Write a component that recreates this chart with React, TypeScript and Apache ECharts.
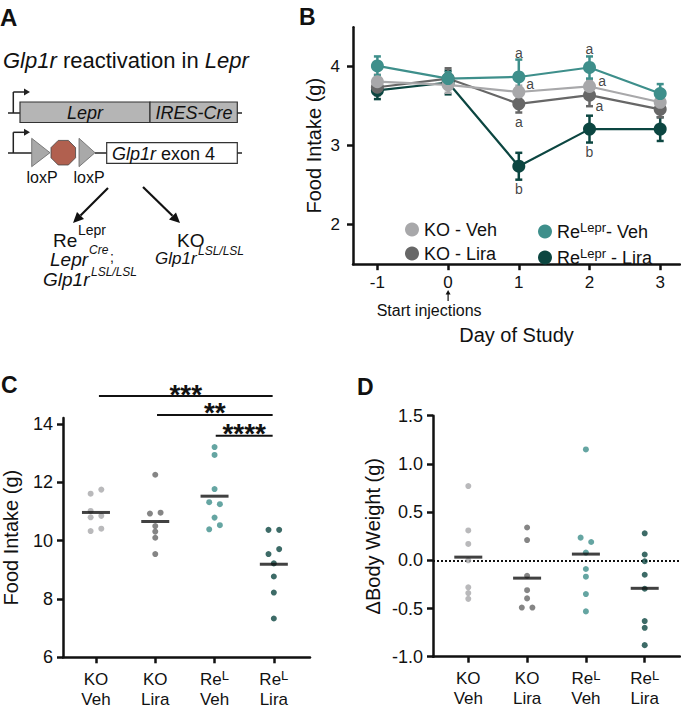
import React, { useEffect, useRef } from 'react';
import * as echarts from 'echarts';

const FONT = '"Liberation Sans", Arial, Helvetica, sans-serif';
const INK = '#111111';

// ---------- Panel B: daily food intake (mean ± SEM) ----------
const bDays = [-1, 0, 1, 2, 3];
const bYTicks = [2, 3, 4];
const bKOVeh = [3.81, 3.77, 3.68, 3.75, 3.55];
const bKOVehErr = [0.09, 0.1, 0.08, 0.08, 0.07];
const bKOLira = [3.74, 3.85, 3.53, 3.64, 3.46];
const bKOLiraErr = [0.1, 0.13, 0.11, 0.14, 0.1];
const bReVeh = [4.01, 3.85, 3.87, 3.99, 3.66];
const bReVehErr = [0.12, 0.08, 0.22, 0.14, 0.12];
const bReLira = [3.7, 3.8, 2.74, 3.21, 3.21];
const bReLiraErr = [0.11, 0.15, 0.17, 0.17, 0.15];
const bLetters: [number, number, string][] = [
  [1, 4.17, 'a'], [1.16, 3.78, 'a'], [1, 3.3, 'a'], [1, 2.45, 'b'],
  [2, 4.22, 'a'], [2.18, 3.82, 'a'], [2.14, 3.5, 'a'], [2, 2.92, 'b'],
];

// ---------- Panels C & D: groups ----------
const groupTop = ['KO', 'KO', 'Re', 'Re'];
const groupSup = ['', '', 'L', 'L'];
const groupBottom = ['Veh', 'Lira', 'Veh', 'Lira'];
const groupColors = ['#a8a8aa', '#676767', '#3e8f8b', '#0c4641'];

// Panel C: cumulative food intake (g)
const cKOVeh = [11.61, 11.75, 11.02, 10.8, 10.85, 10.33, 10.41];
const cKOVehJit = [-0.09, 0.09, -0.09, -0.09, 0.09, -0.09, 0.09];
const cKOLira = [12.26, 10.93, 10.96, 10.5, 10.31, 10.1, 9.54];
const cKOLiraJit = [0, -0.09, 0.09, 0, 0, 0, 0];
const cReVeh = [13.21, 12.94, 11.77, 11.32, 11.25, 10.79, 10.39, 10.53];
const cReVehJit = [0, 0, 0, -0.09, 0.09, 0, -0.09, 0.09];
const cReLira = [10.37, 10.37, 9.54, 9.71, 9.22, 8.77, 8.22, 7.33];
const cReLiraJit = [-0.09, 0.09, -0.09, 0.09, 0, 0, 0, 0];
const cYTicks = [6, 8, 10, 12, 14];
const cSig: [number, number, string, number][] = [
  [0.05, 2.98, '***', 14.96],
  [1.03, 2.98, '**', 14.31],
  [2.02, 2.98, '****', 13.6],
];

// Panel D: change in body weight (g)
const dKOVeh = [0.77, 0.31, 0.17, 0.0, -0.28, -0.34, -0.4];
const dKOVehJit = [0, 0, 0, 0, 0, 0, 0];
const dKOLira = [0.34, 0.21, -0.16, -0.31, -0.395, -0.49, -0.49];
const dKOLiraJit = [0, 0, 0, 0, 0, -0.09, 0.09];
const dReVeh = [1.15, 0.235, 0.19, 0.08, -0.09, -0.17, -0.35, -0.53];
const dReVehJit = [0, -0.09, 0.09, 0, 0, 0, 0, 0];
const dReLira = [0.28, 0.06, -0.01, -0.15, -0.295, -0.63, -0.7, -0.88];
const dReLiraJit = [0, 0, 0, 0, 0, 0, 0, 0];
const dYTicks = [-1, -0.5, 0, 0.5, 1, 1.5];
const catTicks = [0, 1, 2, 3];

const mean = (a: number[]) => a.reduce((s, v) => s + v, 0) / a.length;

const axisLineStyle = { color: INK, width: 2.5 };
const tickStyle = { show: true, length: 6, lineStyle: { color: INK, width: 2.5 } };

const catLabel = {
  customValues: catTicks,
  margin: 12,
  color: INK,
  fontFamily: FONT,
  formatter: (v: number) => {
    const i = Math.round(v);
    return `{t|${groupTop[i]}}` + (groupSup[i] ? `{s|${groupSup[i]}}` : '') + `\n{t|${groupBottom[i]}}`;
  },
  rich: {
    t: { fontSize: 17, lineHeight: 20, color: INK, fontFamily: FONT },
    s: { fontSize: 13, lineHeight: 13, verticalAlign: 'top', color: INK, fontFamily: FONT },
  },
};

function buildOption(): any {
  const series: any[] = [];
  const bGroups = [
    { name: 'Re-Lira', vals: bReLira, err: bReLiraErr, color: groupColors[3] },
    { name: 'KO - Lira', vals: bKOLira, err: bKOLiraErr, color: groupColors[1] },
    { name: 'KO - Veh', vals: bKOVeh, err: bKOVehErr, color: groupColors[0] },
    { name: 'Re-Veh', vals: bReVeh, err: bReVehErr, color: groupColors[2] },
  ];
  bGroups.forEach((g) => {
    series.push({
      type: 'custom',
      name: 'err ' + g.name,
      xAxisIndex: 0,
      yAxisIndex: 0,
      silent: true,
      data: bDays.map((d, i) => [d, g.vals[i] - g.err[i], g.vals[i] + g.err[i]]),
      renderItem: (params: any, api: any) => {
        const x = api.value(0);
        const p1 = api.coord([x, api.value(2)]);
        const p2 = api.coord([x, api.value(1)]);
        const w = 3.5;
        const st = { stroke: g.color, lineWidth: 2.5 };
        return {
          type: 'group',
          children: [
            { type: 'line', shape: { x1: p1[0], y1: p1[1], x2: p2[0], y2: p2[1] }, style: st },
            { type: 'line', shape: { x1: p1[0] - w, y1: p1[1], x2: p1[0] + w, y2: p1[1] }, style: st },
            { type: 'line', shape: { x1: p2[0] - w, y1: p2[1], x2: p2[0] + w, y2: p2[1] }, style: st },
          ],
        };
      },
    });
    series.push({
      type: 'line',
      name: g.name,
      xAxisIndex: 0,
      yAxisIndex: 0,
      data: bDays.map((d, i) => [d, g.vals[i]]),
      symbol: 'circle',
      symbolSize: 13,
      showSymbol: true,
      lineStyle: { color: g.color, width: 2.2 },
      itemStyle: { color: g.color },
      emphasis: { disabled: true },
    });
  });
  series.push({
    type: 'scatter',
    xAxisIndex: 0,
    yAxisIndex: 0,
    silent: true,
    data: bLetters,
    symbolSize: 1,
    itemStyle: { color: 'transparent' },
    label: {
      show: true,
      position: 'inside',
      formatter: (p: any) => p.value[2],
      fontSize: 14,
      color: '#111',
      fontFamily: FONT,
    },
    z: 10,
  });

  const addDots = (groups: number[][], jit: number[][], axis: number) => {
    groups.forEach((vals, g) => {
      series.push({
        type: 'scatter',
        xAxisIndex: axis,
        yAxisIndex: axis,
        silent: true,
        data: vals.map((v, i) => [g + jit[g][i], v]),
        symbolSize: 6,
        itemStyle: { color: groupColors[g] },
        z: 3,
      });
      series.push({
        type: 'scatter',
        xAxisIndex: axis,
        yAxisIndex: axis,
        silent: true,
        data: [[g, mean(vals)]],
        symbol: 'rect',
        symbolSize: [28, 3],
        itemStyle: { color: INK },
        z: 4,
      });
    });
  };
  addDots([cKOVeh, cKOLira, cReVeh, cReLira], [cKOVehJit, cKOLiraJit, cReVehJit, cReLiraJit], 1);
  addDots([dKOVeh, dKOLira, dReVeh, dReLira], [dKOVehJit, dKOLiraJit, dReVehJit, dReLiraJit], 2);
  series.push({
    type: 'scatter',
    xAxisIndex: 2,
    yAxisIndex: 2,
    data: [],
    silent: true,
    markLine: {
      silent: true,
      symbol: ['none', 'none'],
      label: { show: false },
      lineStyle: { type: [2, 2], color: INK, width: 2 },
      data: [{ yAxis: 0 }],
      z: 1,
    },
  });

  const legendText = (name: string) => {
    if (name === 'Re-Veh') return '{b|Re}{s|Lepr}{b|- Veh}';
    if (name === 'Re-Lira') return '{b|Re}{s|Lepr}{b| - Lira}';
    return '{b|' + name + '}';
  };
  const legendBase = {
    orient: 'vertical',
    icon: 'circle',
    itemWidth: 14,
    itemHeight: 14,
    itemGap: 6,
    selectedMode: false,
    formatter: legendText,
    textStyle: {
      color: INK,
      fontFamily: FONT,
      fontSize: 18,
      rich: {
        b: { fontSize: 18, lineHeight: 22, color: INK, fontFamily: FONT },
        s: { fontSize: 13, lineHeight: 13, verticalAlign: 'top', color: INK, fontFamily: FONT },
      },
    },
  };

  const yName = (name: string, gap: number) => ({
    name,
    nameLocation: 'middle',
    nameGap: gap,
    nameTextStyle: { fontSize: 20, color: INK, fontFamily: FONT },
  });

  return {
    animation: false,
    textStyle: { fontFamily: FONT },
    grid: [
      { left: 353, top: 27.2, width: 327, height: 237 },
      { left: 63, top: 418, width: 247, height: 239.3 },
      { left: 433, top: 415.7, width: 247, height: 241 },
    ],
    legend: [
      { ...legendBase, data: ['KO - Veh', 'KO - Lira'], left: 400, top: 215.5 },
      { ...legendBase, data: ['Re-Veh', 'Re-Lira'], left: 533, top: 215.5 },
    ],
    xAxis: [
      {
        gridIndex: 0,
        type: 'value',
        min: -1.345,
        max: 3.28,
        splitLine: { show: false },
        axisLine: { onZero: false, lineStyle: axisLineStyle },
        axisTick: { ...tickStyle, customValues: bDays },
        axisLabel: { customValues: bDays, fontSize: 17, color: INK, margin: 10, fontFamily: FONT },
        name: 'Day of Study',
        nameLocation: 'middle',
        nameGap: 61,
        nameTextStyle: { fontSize: 20, color: INK, fontFamily: FONT },
      },
      {
        gridIndex: 1,
        type: 'value',
        min: -0.556,
        max: 3.61,
        splitLine: { show: false },
        axisLine: { onZero: false, lineStyle: axisLineStyle },
        axisTick: { ...tickStyle, customValues: catTicks },
        axisLabel: catLabel,
      },
      {
        gridIndex: 2,
        type: 'value',
        min: -0.6,
        max: 3.6,
        splitLine: { show: false },
        axisLine: { onZero: false, lineStyle: axisLineStyle },
        axisTick: { ...tickStyle, customValues: catTicks },
        axisLabel: catLabel,
      },
    ],
    yAxis: [
      {
        gridIndex: 0,
        type: 'value',
        min: 1.5,
        max: 4.5,
        splitLine: { show: false },
        axisLine: { show: true, onZero: false, lineStyle: axisLineStyle },
        axisTick: { ...tickStyle, customValues: bYTicks },
        axisLabel: { customValues: bYTicks, fontSize: 17, color: INK, margin: 13, fontFamily: FONT },
        ...yName('Food Intake (g)', 29),
      },
      {
        gridIndex: 1,
        type: 'value',
        min: 6,
        max: 14.206,
        splitLine: { show: false },
        axisLine: { show: true, onZero: false, lineStyle: axisLineStyle },
        axisTick: { ...tickStyle, customValues: cYTicks },
        axisLabel: { customValues: cYTicks, fontSize: 18, color: INK, margin: 10, fontFamily: FONT },
        ...yName('Food Intake (g)', 42),
      },
      {
        gridIndex: 2,
        type: 'value',
        min: -1,
        max: 1.5,
        splitLine: { show: false },
        axisLine: { show: true, onZero: false, lineStyle: axisLineStyle },
        axisTick: { ...tickStyle, customValues: dYTicks },
        axisLabel: {
          customValues: dYTicks,
          fontSize: 18,
          color: INK,
          margin: 10,
          fontFamily: FONT,
          formatter: (v: number) => v.toFixed(1),
        },
        ...yName('\u0394Body Weight (g)', 50),
      },
    ],
    series,
  };
}

function buildGraphics(chart: any): any[] {
  const els: any[] = [];
  const T = (x: number, y: number, text: string, size: number, o: any = {}) =>
    els.push({
      type: 'text',
      x,
      y,
      silent: true,
      z: 100,
      style: {
        text,
        fontFamily: FONT,
        fontSize: size,
        fontStyle: o.italic ? 'italic' : 'normal',
        fontWeight: o.bold ? 'bold' : 'normal',
        fill: INK,
        align: o.align || 'left',
        verticalAlign: 'middle',
        textAlign: o.align || 'left',
        textVerticalAlign: 'middle',
        rich: o.rich,
      },
    });
  const L = (x1: number, y1: number, x2: number, y2: number, w = 1.5, c = '#222') =>
    els.push({ type: 'line', silent: true, z: 90, shape: { x1, y1, x2, y2 }, style: { stroke: c, lineWidth: w } });
  const P = (pts: number[][], fill: string, stroke = 'none', w = 0) =>
    els.push({ type: 'polygon', silent: true, z: 91, shape: { points: pts }, style: { fill, stroke, lineWidth: w } });
  const R = (x: number, y: number, w: number, h: number, fill: string) =>
    els.push({ type: 'rect', silent: true, z: 90, shape: { x, y, width: w, height: h }, style: { fill, stroke: '#333', lineWidth: 1.2 } });

  // panel letters
  T(0, 17, 'A', 24, { bold: true });
  T(299, 17, 'B', 23, { bold: true });
  T(1, 385, 'C', 23, { bold: true });
  T(357, 387, 'D', 23, { bold: true });

  // ---- Panel A schematic ----
  T(3, 60, '{i|Glp1r} reactivation in {i|Lepr}', 22, {
    rich: { i: { fontStyle: 'italic', fontSize: 22, fontFamily: FONT, fill: INK } },
  });
  // row 1
  L(8, 113, 20, 113);
  L(13.3, 113, 13.3, 92);
  L(13.3, 92, 25, 92);
  P([[24, 88.5], [30, 92], [24, 95.5]], '#222');
  R(20, 102, 130, 20.5, '#b5b5b5');
  R(150, 102, 87.3, 20.5, '#b5b5b5');
  L(237.3, 113, 242, 113);
  T(85, 112.5, 'Lepr', 18, { italic: true, align: 'center' });
  T(194, 112.5, 'IRES-Cre', 18, { italic: true, align: 'center' });
  // row 2
  L(8, 153, 32, 153);
  L(13.3, 153, 13.3, 132.3);
  L(13.3, 132.3, 25, 132.3);
  P([[24, 128.8], [30, 132.3], [24, 135.8]], '#222');
  P([[31.7, 138.3], [31.7, 166.7], [50, 152.7]], '#a9a9a9', '#666', 0.8);
  const oct: number[][] = [];
  for (let k = 0; k < 8; k++) {
    const a = (Math.PI / 8) * (2 * k + 1);
    oct.push([63.3 + 13.3 * Math.cos(a), 152.7 + 13.3 * Math.sin(a)]);
  }
  P(oct, '#b1604f', '#444', 0.8);
  P([[79, 138.3], [79, 166.7], [95, 152.7]], '#a9a9a9', '#666', 0.8);
  L(95, 153, 107, 153);
  R(106.7, 142.7, 130.6, 20.6, '#ffffff');
  L(237.3, 153, 242, 153);
  T(112, 153.5, '{i|Glp1r} exon 4', 18, {
    rich: { i: { fontStyle: 'italic', fontSize: 18, fontFamily: FONT, fill: INK } },
  });
  T(42, 177, 'loxP', 16, { align: 'center' });
  T(89, 177, 'loxP', 16, { align: 'center' });
  // arrows
  L(108, 188, 80.5, 215.5, 2.2, INK);
  P([[73, 223], [84, 219], [77, 212]], INK);
  L(143, 187, 172.5, 215.8, 2.2, INK);
  P([[180, 223], [169, 219.5], [176, 212.5]], INK);
  // genotypes
  T(53, 240, 'Re', 19);
  T(78, 230, 'Lepr', 14);
  T(50, 259, 'Lepr', 19, { italic: true });
  T(89, 250, 'Cre', 12, { italic: true });
  T(110, 257, ';', 14);
  T(43, 279, 'Glp1r', 19, { italic: true });
  T(91, 272, 'LSL/LSL', 12, { italic: true });
  T(177, 240, 'KO', 19);
  T(155, 258, 'Glp1r', 17, { italic: true });
  T(198, 251, 'LSL/LSL', 12, { italic: true });

  // ---- Panel B annotations ----
  const p0 = chart.convertToPixel({ gridIndex: 0 }, [0, 1.5]);
  if (p0) {
    L(p0[0], 301, p0[0], 293, 1.2, INK);
    P([[p0[0] - 2.5, 294.5], [p0[0], 290], [p0[0] + 2.5, 294.5]], INK);
    T(p0[0] - 19, 310, 'Start injections', 16, { align: 'center' });
  }

  // ---- Panel C significance ----
  cSig.forEach(([a, b, stars, y]) => {
    const pa = chart.convertToPixel({ gridIndex: 1 }, [a, y]);
    const pb = chart.convertToPixel({ gridIndex: 1 }, [b, y]);
    if (!pa || !pb) return;
    L(pa[0], pa[1], pb[0], pb[1], 2, INK);
    T((pa[0] + pb[0]) / 2, pa[1] - 2, stars, 28, { bold: true, align: 'center' });
  });
  return els;
}

export default function App() {
  const ref = useRef<HTMLDivElement>(null);
  useEffect(() => {
    if (!ref.current) return;
    const chart = echarts.init(ref.current, null, { renderer: 'svg', width: 681, height: 721 });
    chart.setOption(buildOption());
    chart.setOption({ graphic: { elements: buildGraphics(chart) } });
    return () => chart.dispose();
  }, []);
  return (
    <div
      ref={ref}
      style={{ position: 'fixed', left: 0, top: 0, width: 681, height: 721, background: '#fff' }}
    />
  );
}
